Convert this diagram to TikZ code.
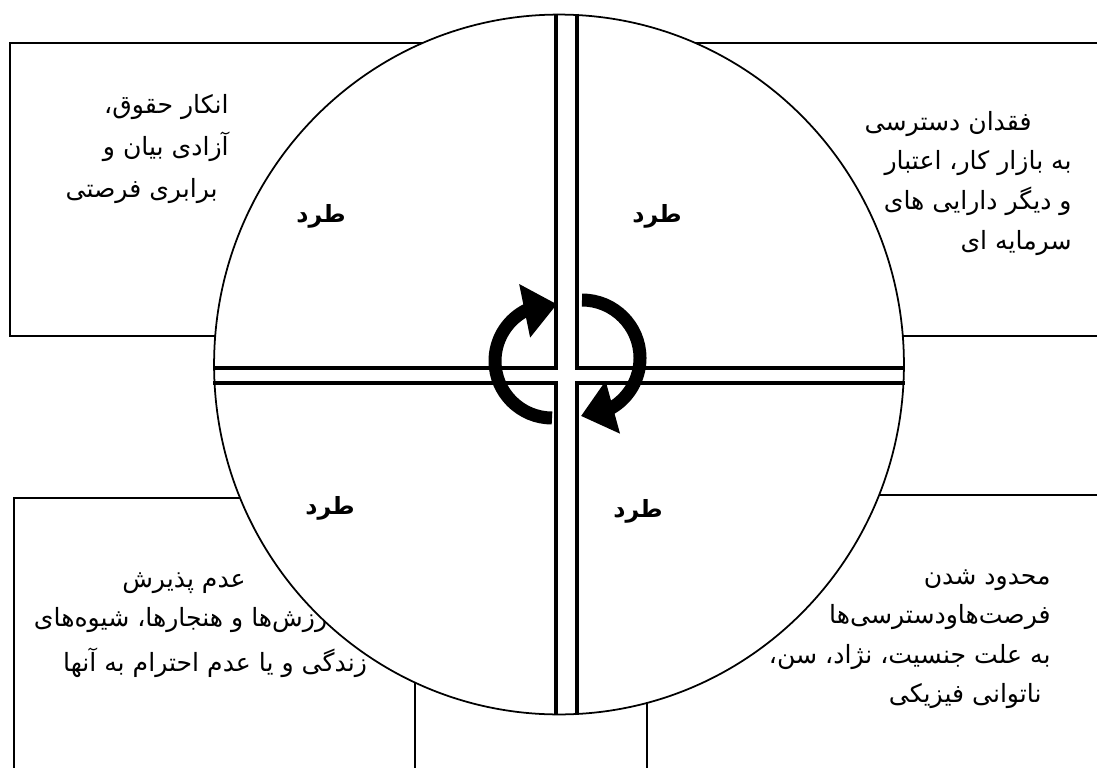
\documentclass[tikz,border=0pt]{standalone}
\usepackage{fontspec}
\newfontfamily\farsi[Script=Arabic]{DejaVu Sans}
\TeXXeTstate=1
\usetikzlibrary{arrows.meta,bending,shapes.geometric}

\begin{document}
\begin{tikzpicture}[x=0.02cm, y=-0.02cm,
    box/.style={draw, line width=1pt},
    disc/.style={draw, ellipse, fill=white, line width=1pt, inner sep=0pt,
                 minimum width=13.8cm, minimum height=14cm},
    wall/.style={line width=2.3pt},
    txt/.style={font=\farsi\fontsize{14.3}{22.5}\selectfont, inner sep=0pt},
    tard/.style={font=\farsi\bfseries\fontsize{13.5}{16}\selectfont, inner sep=0pt},
    turn/.style={line width=7.4pt, -{Triangle[width=1.05cm, length=0.66cm]}}
]
  \useasboundingbox (0,0) rectangle (1097,767);
  % boxes behind the disc
  \draw[box] (10,43) rectangle (560,336);
  \draw[box] (560,43) rectangle (1120,336);
  \draw[box] (14,498) rectangle (415,790);
  \draw[box] (647,495) rectangle (1120,790);
  % bottom-left text, cut by the disc
  \node[txt, align=center, anchor=north] (blt) at (184,572)
    {\beginR عدم پذیرش\endR\\ \beginR ارزش‌ها و هنجارها، شیوه‌های\endR};
  % the disc and its cross
  \node[disc] (ring) at (559,364.5) {};
  \draw[wall] (556,0 |- ring.north) -- (556,368) -- (ring.west |- 0,368);
  \draw[wall] (577,0 |- ring.north) -- (577,368) -- (ring.east |- 0,368);
  \draw[wall] (556,0 |- ring.south) -- (556,383) -- (ring.west |- 0,383);
  \draw[wall] (577,0 |- ring.south) -- (577,383) -- (ring.east |- 0,383);
  % box texts
  \node[txt, align=right, anchor=north east] (tlt) at (229,94)
    {\beginR انکار حقوق،\endR\\[1.5pt] \beginR آزادی بیان و\endR\hspace*{0.34cm}\\[1.5pt]
     \beginR برابری فرصتی\endR\hspace*{0.22cm}};
  \node[txt, align=right, anchor=north east] (trt) at (1072,111)
    {\beginR فقدان دسترسی\endR\hspace*{0.8cm}\\ \beginR به بازار کار، اعتبار\endR\\
     \beginR و دیگر دارایی های\endR\\ \beginR سرمایه ای\endR};
  \node[txt, anchor=north] (blz) at (215,648)
    {\beginR زندگی و یا عدم احترام به آنها\endR};
  \node[txt, align=right, anchor=north east] (brt) at (1051,569)
    {\beginR محدود شدن\endR\\ \beginR فرصت‌هاودسترسی‌ها\endR\\
     \beginR به علت جنسیت، نژاد، سن،\endR\\ \beginR ناتوانی فیزیکی\endR\hspace*{0.18cm}};
  % quadrant labels
  \node[tard] (q1) at (321,216) {\beginR طرد\endR};
  \node[tard] (q2) at (657,216) {\beginR طرد\endR};
  \node[tard] (q3) at (330,508) {\beginR طرد\endR};
  \node[tard] (q4) at (638,511) {\beginR طرد\endR};
  % turning arrows
  \draw[turn] (552,418) arc[start angle=90, end angle=275, radius=57];
  \draw[turn] (582,300) arc[start angle=270, end angle=451, radius=58];
\end{tikzpicture}
\end{document}
